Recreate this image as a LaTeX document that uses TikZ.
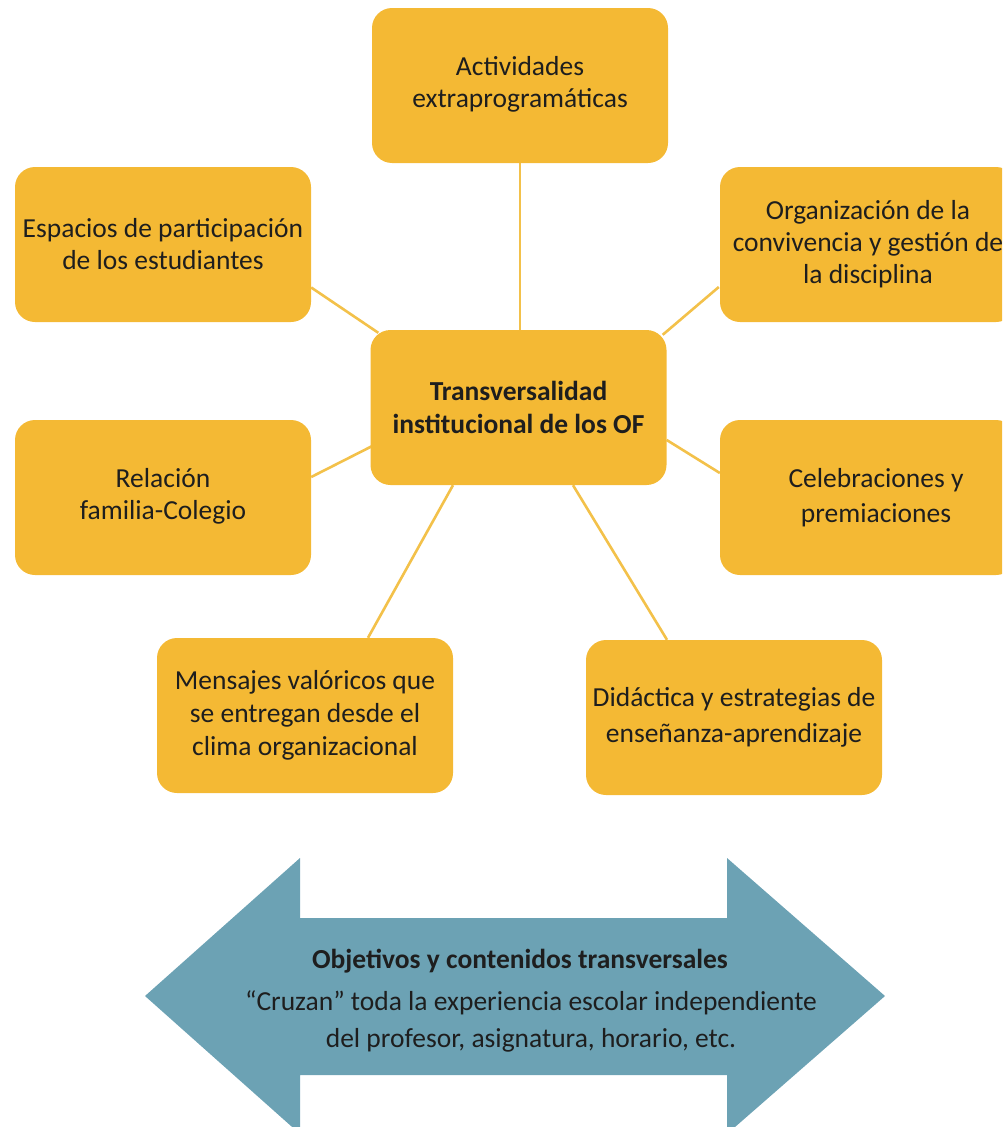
\documentclass[tikz,border=0pt]{standalone}
\usepackage{fontspec}
\setmainfont{Carlito}
\usetikzlibrary{calc,backgrounds}
\definecolor{boxfill}{HTML}{F4B934}
\definecolor{linkcol}{HTML}{F3C14A}
\definecolor{arrowfill}{HTML}{6CA2B4}
\definecolor{txt}{HTML}{1E1E1E}
\tikzset{
  obox/.style={draw=none, fill=boxfill, rounded corners=20pt, minimum width=296pt, minimum height=155pt,
    align=center, text=txt, font=\fontsize{27.5}{32}\selectfont, inner sep=0pt},
  link/.style={draw=linkcol, line width=2.6pt},
}
\begin{document}
\begin{tikzpicture}[x=1pt,y=-1pt]
\useasboundingbox (0,0) rectangle (1002,1127);
\clip (0,0) rectangle (1002,1127);
\node[obox] (act) at (520,85.5) {\raisebox{11pt}{\begin{tabular}{@{}c@{}}Actividades\\extraprogramáticas\end{tabular}}};
\node[obox] (esp) at (163,244.5) {Espacios de participación\\de los estudiantes};
\node[obox] (org) at (868,244.5) {Organización de la\\convivencia y gestión de\\la disciplina};
\node[obox, font=\bfseries\fontsize{27.5}{33}\selectfont] (ctr) at (518.5,407.5) {Transversalidad\\institucional de los OF};
\node[obox] (rel) at (163,497.5) {\raisebox{7pt}{\begin{tabular}{@{}c@{}}Relación\\familia-Colegio\end{tabular}}};
\node[obox, font=\fontsize{27.5}{35}\selectfont] (cel) at (868,497.5) {\raisebox{-2pt}{\begin{tabular}{@{}c@{}}\hspace*{16pt}Celebraciones y\\\hspace*{16pt}premiaciones\end{tabular}}};
\node[obox, font=\fontsize{27.5}{33}\selectfont] (men) at (305,715.5) {Mensajes valóricos que\\se entregan desde el\\clima organizacional};
\node[obox, font=\fontsize{27.5}{36}\selectfont] (did) at (734,717.5) {\raisebox{-3pt}{\begin{tabular}{@{}c@{}}Didáctica y estrategias de\\enseñanza-aprendizaje\end{tabular}}};
\begin{scope}[on background layer]
\draw[link] (act.south) -- (act.south |- ctr.north);
\draw[link] ($(esp.east)+(0,43)$) -- ($(ctr.north west)+(8,3)$);
\draw[link] ($(org.west)+(-1,42.5)$) -- ($(ctr.north east)+(-4,5)$);
\draw[link] ($(rel.east)+(0,-20.5)$) -- ($(ctr.west)+(2,38.5)$);
\draw[link] ($(cel.west)+(0,-24.5)$) -- ($(ctr.east)+(0,32.5)$);
\draw[link] ($(men.north)+(63,0)$) -- ($(ctr.south)+(-65.5,0)$);
\draw[link] ($(did.north)+(-67,0)$) -- ($(ctr.south)+(54.5,0)$);
\end{scope}
\fill[arrowfill] (145,996) -- (300,858) -- (300,918) -- (727,918) -- (727,858) -- (885,996)
  -- (727,1134) -- (727,1075) -- (300,1075) -- (300,1134) -- cycle;
\node[text=txt, font=\bfseries\fontsize{27.5}{32}\selectfont] (ttl) at (520,961) {Objetivos y contenidos transversales};
\node[text=txt, align=center, font=\fontsize{27.5}{37}\selectfont, anchor=north] (sub) at (531,987) {“Cruzan” toda la experiencia escolar independiente\\del profesor, asignatura, horario, etc.};
\end{tikzpicture}
\end{document}
